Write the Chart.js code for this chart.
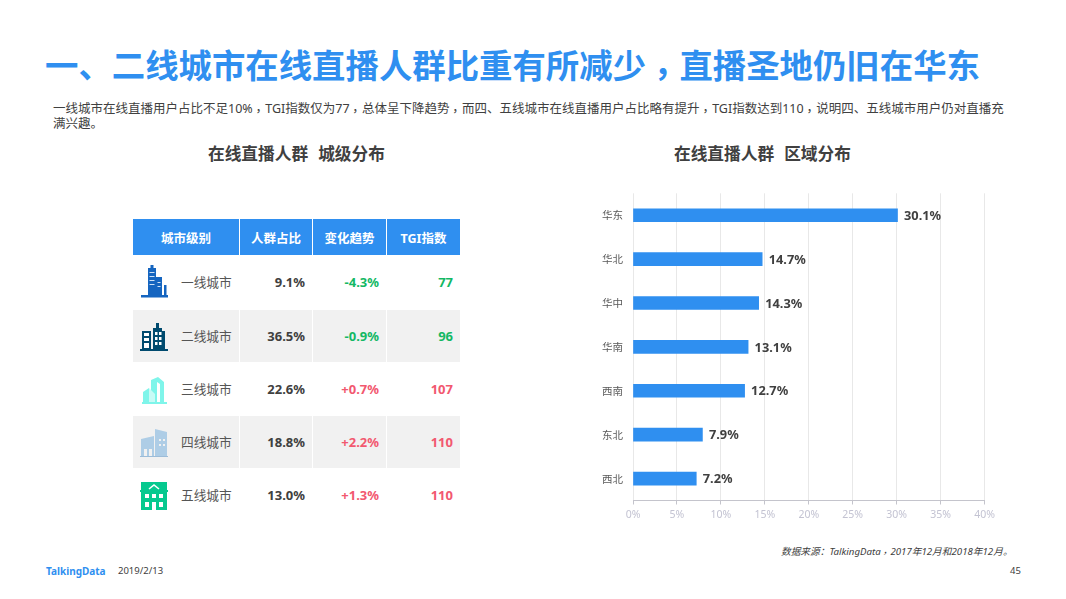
<!DOCTYPE html>
<html lang="zh-CN">
<head>
<meta charset="utf-8">
<script src="https://cdn.jsdelivr.net/npm/chart.js@4/dist/chart.umd.min.js"></script>
<style>
html, body { margin: 0; padding: 0; background: #fff; }
body { width: 1066px; height: 599px; position: relative; overflow: hidden; font-family: "Noto Sans", "Noto Sans CJK SC", sans-serif; color: #404040; }
.txt { position: absolute; white-space: nowrap; }
.c { position: relative; left: 0.22em; top: -0.06em; }
#title { left: 45px; top: 41px; font-size: 33.4px; line-height: 48px; font-weight: 700; color: #2f8ff0; }
#desc { left: 53px; top: 102px; font-size: 12.5px; line-height: 14.5px; color: #404040; }
.sub { top: 142px; font-size: 16.7px; line-height: 24px; font-weight: 700; color: #404040; }
.sub span { margin-left: 10px; }
#source { left: 781px; top: 545px; font-size: 9.7px; line-height: 14px; font-style: italic; color: #404040; }
#brand { left: 46px; top: 564px; font-size: 10px; line-height: 14px; font-weight: 700; color: #2f8ff0; }
#date { left: 118px; top: 564px; font-size: 9.5px; line-height: 14px; color: #404040; }
#page { left: 1010px; top: 564px; font-size: 9.5px; line-height: 14px; color: #404040; }
#cityTable { position: absolute; left: 133px; top: 219px; width: 327px; border-collapse: separate; border-spacing: 0; table-layout: fixed; font-size: 13px; }
#cityTable th { box-sizing: border-box; background: #2f8ff0; color: #fff; height: 36px; padding: 0; font-size: 12.5px; font-weight: 700; border-right: 1px solid #fff; }
#cityTable th:last-child, #cityTable td:last-child { border-right: 0; }
#cityTable td { box-sizing: border-box; height: 53px; padding: 0 7px 0 0; text-align: right; font-weight: 700; border-right: 1px solid #fff; border-bottom: 1px solid #fff; }
#cityTable tbody tr:first-child td { height: 55px; }
#cityTable tr.alt td { background: #f1f1f1; }
#cityTable td.name { position: relative; padding: 0; text-align: left; font-weight: 400; font-size: 12.7px; color: #555; }
#cityTable td.name svg { position: absolute; left: 6px; top: 50%; width: 30px; height: 34px; margin-top: -17px; }
#cityTable td.name span { position: relative; top: -1px; margin-left: 48px; }
.down { color: #13b864; }
.up { color: #f2586f; }
#chartBox { position: absolute; left: 590px; top: 177px; width: 420px; height: 353px; }
</style>
</head>
<body>
<div class="txt" id="title">一、二线城市在线直播人群比重有所减少<span class="c">，</span>直播圣地仍旧在华东</div>
<div class="txt" id="desc">一线城市在线直播用户占比不足10%<span class="c">，</span>TGI指数仅为77<span class="c">，</span>总体呈下降趋势<span class="c">，</span>而四、五线城市在线直播用户占比略有提升<span class="c">，</span>TGI指数达到110<span class="c">，</span>说明四、五线城市用户仍对直播充<br>满兴趣。</div>
<div class="txt sub" style="left:208px">在线直播人群<span>城级分布</span></div>
<div class="txt sub" style="left:674px">在线直播人群<span>区域分布</span></div>

<table id="cityTable"><thead id="tableHead"></thead><tbody id="tableBody"></tbody></table>

<div id="chartBox"><canvas id="regionChart"></canvas></div>

<div class="txt" id="source">数据来源：TalkingData<span class="c">，</span>2017年12月和2018年12月。</div>
<div class="txt" id="brand">TalkingData</div>
<div class="txt" id="date">2019/2/13</div>
<div class="txt" id="page">45</div>

<script>
// 表格数据
const tableHeaders = ['城市级别', '人群占比', '变化趋势', 'TGI指数'];
const cityLevels = ['一线城市', '二线城市', '三线城市', '四线城市', '五线城市'];
const cityShares = ['9.1%', '36.5%', '22.6%', '18.8%', '13.0%'];
const cityTrends = ['-4.3%', '-0.9%', '+0.7%', '+2.2%', '+1.3%'];
const cityTgi = [77, 96, 107, 110, 110];

// 区域分布
const regions = ['华东', '华北', '华中', '华南', '西南', '东北', '西北'];
const regionValues = [30.1, 14.7, 14.3, 13.1, 12.7, 7.9, 7.2];

// 城市小图标
const cityIcons = [
    '<svg viewBox="0 0 30 34"><g fill="#1565c0"><rect x="9" y="3" width="8" height="28"/><rect x="11.5" y="0" width="3" height="4"/><rect x="17" y="12" width="6" height="19"/><rect x="25" y="20" width="2.5" height="11"/><rect x="2" y="30" width="27" height="2.5"/></g><g fill="#cfe2f6"><rect x="10.5" y="7" width="5" height="1"/><rect x="10.5" y="11" width="5" height="1"/><rect x="10.5" y="15" width="5" height="1"/><rect x="10.5" y="19" width="5" height="1"/><rect x="18.5" y="17" width="3" height="1"/><rect x="18.5" y="21" width="3" height="1"/></g></svg>',
    '<svg viewBox="0 0 30 34"><path fill="#004a6e" d="M1 30h28v2H1zM3 12h9v18H3zM14 9h3V4h3v5h3v3h3v18H14z"/><g fill="#fff"><rect x="5" y="14" width="5" height="3"/><rect x="5" y="19" width="5" height="3"/><rect x="5" y="24" width="5" height="5"/><rect x="16" y="13" width="2.5" height="3"/><rect x="20" y="13" width="2.5" height="3"/><rect x="16" y="18" width="2.5" height="3"/><rect x="20" y="18" width="2.5" height="3"/><rect x="16" y="23" width="2.5" height="3"/><rect x="20" y="23" width="2.5" height="3"/></g></svg>',
    '<svg viewBox="0 0 30 34"><path fill="#7ff5ea" d="M3 30h25v2H3zM4 20l6-4v14H4zM12 8l7-3 6 5v20h-4V12l-3-2v20h-6z"/><path fill="#c8fbf6" d="M10 16l6 6v8h-6z"/></svg>',
    '<svg viewBox="0 0 30 34"><path fill="#aecde6" d="M2 14l13-3v20H2zM16 4l12 3v24H16z"/><rect x="1" y="31" width="28" height="1" fill="#9cbcd8"/><g fill="#f1f1f1"><rect x="5" y="24" width="3" height="7"/><rect x="10" y="24" width="3" height="7"/><rect x="20" y="14" width="2" height="2"/><rect x="24" y="14" width="2" height="2"/><rect x="20" y="19" width="2" height="2"/><rect x="24" y="19" width="2" height="2"/></g></svg>',
    '<svg viewBox="0 0 30 34"><path fill="#06c98f" d="M2 4h26v8h1v2h-1v18H2V14H1v-2h1z"/><path fill="none" stroke="#fff" stroke-width="1.6" d="M10 11l5-4 5 4"/><g fill="#fff"><rect x="6" y="16" width="4" height="4"/><rect x="13" y="16" width="4" height="4"/><rect x="20" y="16" width="4" height="4"/><rect x="6" y="24" width="4" height="5"/><rect x="13" y="24" width="4" height="8"/><rect x="20" y="24" width="4" height="5"/></g></svg>'
];

const colWidths = [107, 73, 74, 73];
document.getElementById('tableHead').innerHTML = '<tr>' + tableHeaders.map(function (h, i) {
    return '<th style="width:' + colWidths[i] + 'px">' + h + '</th>';
}).join('') + '</tr>';
document.getElementById('tableBody').innerHTML = cityLevels.map(function (name, i) {
    const cls = cityTrends[i].charAt(0) === '-' ? 'down' : 'up';
    return '<tr class="' + (i % 2 ? 'alt' : '') + '">' +
        '<td class="name">' + cityIcons[i] + '<span>' + name + '</span></td>' +
        '<td>' + cityShares[i] + '</td>' +
        '<td class="' + cls + '">' + cityTrends[i] + '</td>' +
        '<td class="' + cls + '">' + cityTgi[i] + '</td></tr>';
}).join('');

// 柱子右侧的百分比标签
const barLabels = {
    id: 'barLabels',
    afterDatasetsDraw: function (chart) {
        const ctx = chart.ctx;
        ctx.save();
        ctx.font = '700 12.8px "Noto Sans", "Noto Sans CJK SC"';
        ctx.fillStyle = '#404040';
        ctx.textBaseline = 'middle';
        chart.getDatasetMeta(0).data.forEach(function (bar, i) {
            ctx.fillText(regionValues[i].toFixed(1) + '%', bar.x + 6.5, bar.y + 1);
        });
        ctx.restore();
    }
};

new Chart(document.getElementById('regionChart'), {
    type: 'bar',
    data: {
        labels: regions,
        datasets: [{
            data: regionValues,
            backgroundColor: '#2f8ff0',
            barThickness: 13
        }]
    },
    plugins: [barLabels],
    options: {
        indexAxis: 'y',
        responsive: true,
        maintainAspectRatio: false,
        animation: false,
        layout: { padding: { top: 0, right: 25.5, bottom: 0, left: 0 } },
        plugins: { legend: { display: false }, tooltip: { enabled: false } },
        scales: {
            x: {
                min: 0,
                max: 40,
                afterFit: function (scale) { scale.height = 29.5; },
                grid: { color: '#e8e8e8', drawTicks: true, tickLength: 4, tickColor: '#c4c4cc' },
                border: { color: '#c4c4cc' },
                ticks: {
                    stepSize: 5,
                    maxRotation: 0,
                    padding: 4,
                    color: '#c3c3d2',
                    font: { size: 10.5, family: '"Noto Sans", "Noto Sans CJK SC"' },
                    callback: function (v) { return v + '%'; }
                }
            },
            y: {
                afterFit: function (scale) { scale.width = 43; },
                grid: { display: false, drawTicks: false },
                border: { display: false },
                ticks: {
                    padding: 10,
                    color: '#595959',
                    font: { size: 10.5, family: '"Noto Sans CJK SC"' }
                }
            }
        }
    }
});
</script>
</body>
</html>
